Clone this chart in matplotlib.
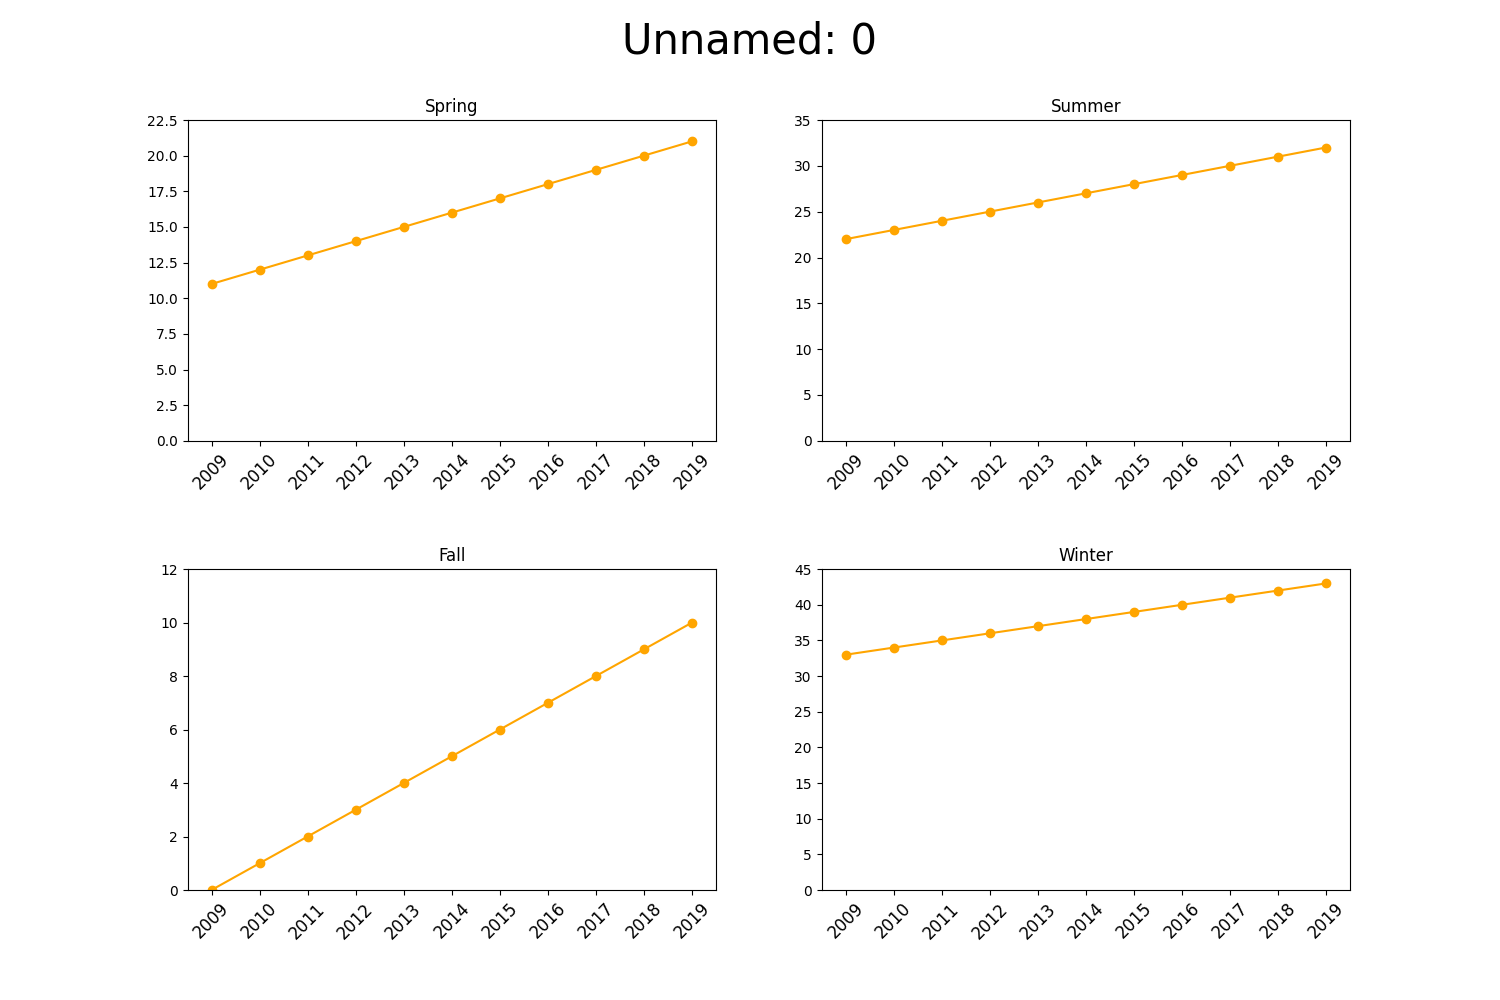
import matplotlib
matplotlib.use("Agg")
import matplotlib.pyplot as plt

years = [2009, 2010, 2011, 2012, 2013, 2014, 2015, 2016, 2017, 2018, 2019]
spring = [11, 12, 13, 14, 15, 16, 17, 18, 19, 20, 21]
summer = [22, 23, 24, 25, 26, 27, 28, 29, 30, 31, 32]
fall = [0, 1, 2, 3, 4, 5, 6, 7, 8, 9, 10]
winter = [33, 34, 35, 36, 37, 38, 39, 40, 41, 42, 43]

seasons = ["Spring", "Summer", "Fall", "Winter"]
values = [spring, summer, fall, winter]
tops = [22.5, 35, 12, 45]

fig, axes = plt.subplots(2, 2, figsize=(15, 10))
fig.subplots_adjust(hspace=0.4)

for ax, name, vals, top in zip(axes.flat, seasons, values, tops):
    ax.plot(years, vals, 'o-', color='orange')
    ax.set_title(name, fontsize=12)
    ax.set_xticks(years)
    ax.set_xticklabels([str(y) for y in years], rotation=45, fontsize=12)
    ax.set_ylim(0, top)

fig.suptitle("Unnamed: 0", fontsize=30)

plt.savefig("out.png")
